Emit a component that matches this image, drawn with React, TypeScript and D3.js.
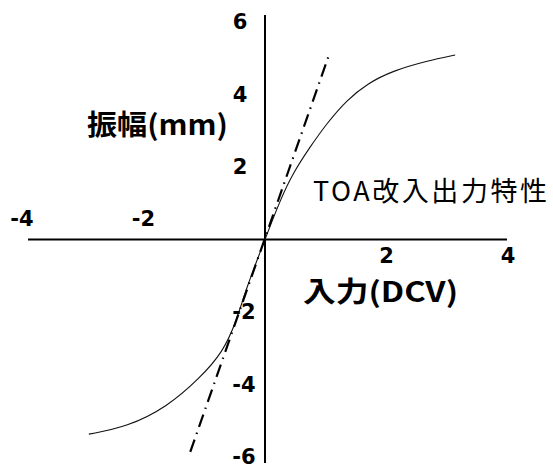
import React from "react";
import * as d3 from "d3";

const W = 553;
const H = 468;

const curveX = [-2.9, -2.27, -1.61, -1.07, -0.69, -0.47, -0.3, 0, 0.25, 0.46, 0.74, 1.02, 1.35, 1.68, 2.11, 2.67, 3.13];
const curveY = [-5.37, -5.17, -4.62, -3.82, -3.1, -2.25, -1.3, 0, 1.09, 1.83, 2.55, 3.21, 3.85, 4.3, 4.66, 4.93, 5.09];

const dashX = [-1.23, 1.07];
const dashY = [-5.86, 5.17];

const xTicks = [-4, -2, 2, 4];
const yTicks = [6, 4, 2, -2, -4, -6];

const yAxisTitle = "振幅(mm)";
const xAxisTitle = "入力(DCV)";
const seriesLabel = "TOA改入出力特性";

export default function App() {
  const x = d3.scaleLinear().domain([-4, 4]).range([22, 508]);
  const y = d3.scaleLinear().domain([-6, 6]).range([457, 22]);

  const pts: [number, number][] = curveX.map((v, i) => [v, curveY[i]]);
  const line = d3
    .line<[number, number]>()
    .x((d) => x(d[0]))
    .y((d) => y(d[1]))
    .curve(d3.curveBasis);

  const dashPts: [number, number][] = dashX.map((v, i) => [v, dashY[i]]);
  const dashLine = d3
    .line<[number, number]>()
    .x((d) => x(d[0]))
    .y((d) => y(d[1]));

  const x0 = x(0);
  const y0 = y(0);
  const tickFont = "'DejaVu Sans', Verdana, sans-serif";
  const cjkFont = "'Noto Sans CJK JP', 'Noto Sans', sans-serif";

  return (
    <svg
      width={W}
      height={H}
      style={{ position: "absolute", left: 0, top: 0, background: "#fff" }}
    >
      {/* axes */}
      <line x1={28} x2={507} y1={y0} y2={y0} stroke="#000" strokeWidth={2} />
      <line x1={x0} x2={x0} y1={15} y2={463} stroke="#000" strokeWidth={2} />

      {/* curves */}
      <path d={line(pts) || ""} fill="none" stroke="#111" strokeWidth={1.1} />
      <path
        d={dashLine(dashPts) || ""}
        fill="none"
        stroke="#000"
        strokeWidth={2.2}
        strokeDasharray="13,6,1.5,6"
      />

      {/* x tick labels */}
      {xTicks.map((t) => (
        <text
          key={"x" + t}
          x={x(t)}
          y={t < 0 ? 219 : 256}
          textAnchor="middle"
          dominantBaseline="central"
          fontFamily={tickFont}
          fontWeight="bold"
          fontSize={21}
        >
          {t}
        </text>
      ))}

      {/* y tick labels */}
      {yTicks.map((t) => (
        <text
          key={"y" + t}
          x={t > 0 ? 240 : 244}
          y={y(t)}
          textAnchor="middle"
          dominantBaseline="central"
          fontFamily={tickFont}
          fontWeight="bold"
          fontSize={21}
        >
          {t}
        </text>
      ))}

      {/* titles */}
      <text
        x={87}
        y={123}
        dominantBaseline="central"
        fontFamily={cjkFont}
        fontWeight="bold"
        fontSize={28}
        textLength={141}
        lengthAdjust="spacingAndGlyphs"
      >
        {yAxisTitle}
      </text>
      <text
        x={303}
        y={290}
        dominantBaseline="central"
        fontFamily={cjkFont}
        fontWeight="bold"
        fontSize={28}
        textLength={155}
        lengthAdjust="spacingAndGlyphs"
      >
        {xAxisTitle}
      </text>
      <text
        x={313}
        y={189}
        dominantBaseline="central"
        fontFamily={cjkFont}
        fontSize={27}
        textLength={234}
        lengthAdjust="spacing"
      >
        {seriesLabel}
      </text>
    </svg>
  );
}
